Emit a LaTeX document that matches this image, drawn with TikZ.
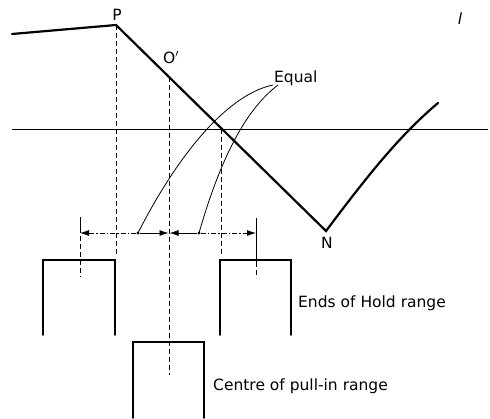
\documentclass[tikz,border=0pt]{standalone}
\usepackage{fontspec}
\setmainfont{DejaVu Sans}
\usetikzlibrary{arrows.meta}
\begin{document}
\begin{tikzpicture}[x=1pt,y=-1pt,
  heavy/.style={line width=2.2pt,line cap=round,line join=miter},
  boxline/.style={line width=1.8pt,line cap=round},
  thin/.style={line width=0.8pt},
  dashln/.style={line width=1pt,dash pattern=on 5pt off 3pt},
  dimln/.style={line width=0.8pt,dash pattern=on 5pt off 2pt on 1.5pt off 2pt},
  arr/.style={-{Latex[length=9pt,width=6pt]}},
  lab/.style={font=\fontsize{15.5}{17}\selectfont,inner sep=0pt},
  dotc/.style={circle,fill,inner sep=0pt,minimum size=3.4pt}]
\useasboundingbox (0,0) rectangle (490,418);
% axis
\coordinate (axL) at (12,129);
\coordinate (axR) at (488,129);
\draw[thin] (axL) -- (axR);
% main curve
\coordinate (S) at (12,34);
\coordinate (P) at (116,25);
\coordinate (N) at (326,231);
\coordinate (E) at (438,103);
\draw[heavy] (S) -- (P) -- (N) .. controls (368,175) and (400,135) .. (E);
% labels
\node[lab,anchor=base] (lP) at (117,20) {P};
\node[lab,anchor=base west] (lO) at (163,63) {O$'$};
\node[lab,anchor=base] (lN) at (327,248) {N};
\node[lab,anchor=base west] (lEq) at (274,82) {Equal};
\node[lab,anchor=base] (lt) at (460,24) {\itshape l};
\node[lab,anchor=base west] (lHold) at (298,307) {Ends of Hold range};
\node[lab,anchor=base west] (lPull) at (213,390) {Centre of pull-in range};
% dashed verticals
\coordinate (Pd) at (116,255);
\coordinate (Ot) at (169,77);
\coordinate (Od) at (169,375);
\coordinate (Xt) at (221,129);
\coordinate (Xd) at (221,256);
\draw[dashln] (P) -- (Pd);
\draw[dashln] (Ot) -- (Od);
\draw[dashln] (Xt) -- (Xd);
% dimension line
\coordinate (Dl) at (80,233);
\coordinate (Dr) at (256,233);
\coordinate (Dm) at (169,233);
\node[dotc] (d1) at (138,233) {};
\node[dotc] (d2) at (199,233) {};
\draw[dimln,arr] (d1) -- (Dl);
\draw[thin,arr] (d1) -- ([xshift=-0.5pt]Dm);
\draw[thin,arr] (d2) -- ([xshift=0.5pt]Dm);
\draw[dimln,arr] (d2) -- (Dr);
% ticks
\coordinate (Lt1) at (80,217);
\coordinate (Lt2) at (80,228);
\coordinate (Lt3) at (80,277);
\draw[thin] (Lt1) -- (Lt2);
\draw[dashln] (Lt2) -- (Lt3);
\coordinate (Rt1) at (256,218);
\coordinate (Rt2) at (256,262);
\coordinate (Rt3) at (256,278);
\draw[thin] (Rt1) -- (Rt2);
\draw[dashln] (Rt2) -- (Rt3);
% arcs to Equal
\coordinate (q1) at (273,85);
\coordinate (q2) at (278,85);
\draw[thin] (d1.center) .. controls (175,160) and (225,95) .. (q1);
\draw[thin] (d2.center) .. controls (220,160) and (245,110) .. (q2);
% boxes
\draw[boxline] (43,335) -- (43,260) -- (115,260) -- (115,335);
\draw[boxline] (220,335) -- (220,260) -- (291,260) -- (291,335);
\draw[boxline] (133,418) -- (133,342) -- (204,342) -- (204,418);
\end{tikzpicture}
\end{document}
